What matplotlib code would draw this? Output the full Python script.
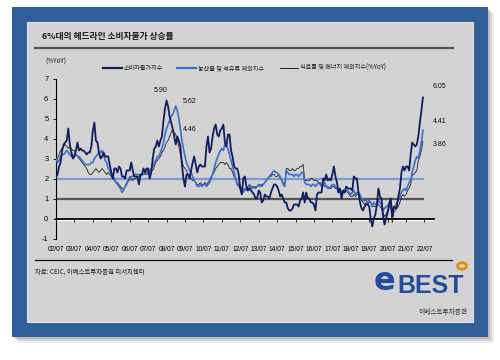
import matplotlib
matplotlib.use("Agg")
import matplotlib.pyplot as plt
from matplotlib.patches import Rectangle, Circle
from matplotlib.lines import Line2D

W, H = 500, 360
plt.rcParams['font.family'] = ['Noto Sans CJK KR', 'DejaVu Sans']
NARROW = ['Liberation Sans Narrow', 'Liberation Sans', 'DejaVu Sans']

TITLE = "6%대의 헤드라인 소비자물가 상승률"
SOURCE = "자료: CEIC, 이베스트투자증권 리서치센터"
UNIT = "(%YoY)"
SERIES_NAMES = ["소비자물가지수", "농산물 및 석유류 제외지수", "식료품 및 에너지 제외지수(%YoY)"]
TICK_LABELS = ["02/07", "03/07", "04/07", "05/07", "06/07", "07/07", "08/07", "09/07",
               "10/07", "11/07", "12/07", "13/07", "14/07", "15/07", "16/07", "17/07",
               "18/07", "19/07", "20/07", "21/07", "22/07"]

# monthly %YoY, 2002-07 .. 2022-06
cpi = [
    2.1, 2.2, 2.6, 2.8, 3.4, 3.7,
    3.8, 3.9, 4.5, 3.7, 3.3, 3.0, 3.1, 3.4, 3.8, 3.4, 3.5, 3.4,
    3.4, 3.3, 3.2, 3.3, 3.3, 3.6, 4.4, 4.8, 3.9, 3.8, 3.3, 3.0,
    3.1, 3.3, 3.1, 3.1, 3.1, 2.7, 2.3, 2.0, 2.5, 2.5, 2.3, 2.6,
    2.5, 2.1, 2.1, 2.0, 2.4, 2.4, 2.4, 2.8, 2.4, 2.1, 2.1, 2.1,
    1.7, 2.2, 2.2, 2.5, 2.3, 2.5, 2.5, 2.0, 2.3, 3.0, 3.5, 3.6,
    3.9, 3.6, 3.9, 4.1, 4.9, 5.5, 5.9, 5.6, 5.1, 4.8, 4.5, 4.1,
    3.7, 4.1, 3.9, 3.6, 2.7, 2.0, 1.6, 2.2, 2.2, 2.0, 2.4, 2.8,
    3.1, 2.7, 2.3, 2.6, 2.7, 2.6, 2.6, 2.6, 3.6, 4.1, 3.3, 3.5,
    4.1, 4.5, 4.7, 4.2, 4.1, 4.4, 4.5, 4.7, 3.8, 3.6, 4.2, 4.2,
    3.4, 3.1, 2.6, 2.5, 2.5, 2.2, 1.5, 1.2, 2.0, 2.1, 1.6, 1.4,
    1.5, 1.4, 1.3, 1.2, 1.0, 1.0, 1.4, 1.3, 0.8, 0.9, 1.2, 1.1,
    1.1, 1.0, 1.3, 1.5, 1.7, 1.7, 1.6, 1.4, 1.1, 1.2, 1.0, 0.8,
    0.8, 0.5, 0.4, 0.4, 0.5, 0.7, 0.7, 0.7, 0.6, 0.9, 1.0, 1.3,
    0.8, 1.3, 1.0, 1.0, 0.8, 0.8, 0.7, 0.4, 1.2, 1.3, 1.3, 1.3,
    2.0, 1.9, 2.2, 1.9, 2.0, 1.9, 2.2, 2.6, 2.1, 1.8, 1.3, 1.5,
    1.0, 1.4, 1.3, 1.6, 1.5, 1.5, 1.5, 1.4, 2.1, 2.0, 2.0, 1.3,
    0.8, 0.5, 0.4, 0.6, 0.7, 0.7, 0.6, 0.0, -0.4, 0.0, 0.2, 0.7,
    1.5, 1.1, 1.0, 0.1, -0.3, 0.0, 0.3, 0.7, 1.0, 0.1, 0.6, 0.5,
    0.6, 1.1, 1.5, 2.3, 2.6, 2.4, 2.6, 2.6, 2.4, 3.2, 3.8, 3.7,
    3.6, 3.7, 4.1, 4.8, 5.4, 6.05,
]
ex_agri_oil = [
    3.0, 2.8, 2.9, 3.1, 3.2, 3.2,
    3.3, 3.4, 3.3, 3.2, 3.1, 3.1, 3.2, 3.2, 3.1, 3.1, 3.0, 2.9,
    2.8, 2.7, 2.7, 2.7, 2.7, 2.8, 2.8, 3.0, 3.1, 3.2, 3.3, 3.3,
    3.4, 3.2, 2.9, 2.8, 2.5, 2.4, 2.2, 2.1, 2.0, 1.8, 1.7, 1.6,
    1.5, 1.3, 1.4, 1.6, 1.7, 1.9, 1.9, 2.1, 2.1, 2.2, 2.2, 2.2,
    2.2, 2.1, 2.2, 2.2, 2.3, 2.3, 2.4, 2.4, 2.5, 2.6, 2.8, 2.9,
    3.1, 3.1, 3.3, 3.5, 3.8, 4.2, 4.5, 4.7, 4.9, 5.1, 5.2, 5.4,
    5.62, 5.4, 5.0, 4.5, 3.9, 3.5, 3.1, 2.8, 2.6, 2.4, 2.3, 2.1,
    1.9, 1.8, 1.6, 1.6, 1.7, 1.6, 1.7, 1.7, 1.6, 1.7, 1.8, 2.0,
    2.2, 2.5, 2.8, 3.0, 3.2, 3.4, 3.5, 3.4, 3.7, 3.6, 3.5, 3.2,
    2.9, 2.6, 2.3, 2.0, 1.7, 1.6, 1.5, 1.4, 1.3, 1.5, 1.4, 1.5,
    1.7, 1.6, 1.5, 1.6, 1.5, 1.6, 1.7, 1.6, 1.7, 1.7, 1.8, 1.9,
    2.0, 2.1, 2.2, 2.3, 2.4, 2.3, 2.3, 2.2, 2.1, 1.9, 1.7, 1.6,
    2.4, 2.3, 2.2, 2.2, 2.2, 2.1, 2.2, 2.2, 2.1, 2.2, 2.3, 2.3,
    1.8, 1.7, 1.7, 1.7, 1.6, 1.7, 1.7, 1.6, 1.7, 1.8, 1.7, 1.6,
    1.7, 1.8, 1.6, 1.6, 1.5, 1.6, 1.7, 1.7, 1.6, 1.5, 1.3, 1.4,
    1.3, 1.4, 1.3, 1.4, 1.4, 1.3, 1.2, 1.3, 1.4, 1.2, 1.3, 1.3,
    1.2, 1.0, 0.9, 0.9, 0.9, 0.8, 0.9, 0.8, 0.6, 0.8, 0.7, 0.7,
    0.9, 0.8, 0.7, 0.4, 0.5, 0.6, 0.6, 0.8, 0.7, 0.3, 0.5, 0.6,
    0.8, 0.9, 1.1, 1.3, 1.4, 1.5, 1.4, 1.6, 1.8, 1.9, 2.3, 2.6,
    2.9, 3.1, 3.0, 3.4, 3.8, 4.41,
]
ex_food_energy = [
    2.8, 3.0, 3.2, 3.4, 3.5, 3.6,
    3.7, 3.6, 3.5, 3.6, 3.5, 3.4, 3.4, 3.2, 3.1, 3.0, 2.9, 2.8,
    2.7, 2.6, 2.5, 2.3, 2.2, 2.2, 2.3, 2.4, 2.5, 2.4, 2.3, 2.4,
    2.5, 2.4, 2.3, 2.2, 2.3, 2.2, 2.1, 2.0, 1.9, 1.8, 1.8, 1.7,
    1.6, 1.5, 1.5, 1.6, 1.8, 1.9, 2.1, 2.0, 1.9, 2.0, 2.0, 2.1,
    2.1, 2.2, 2.2, 2.2, 2.2, 2.2, 2.3, 2.3, 2.4, 2.4, 2.6, 2.8,
    2.9, 3.0, 3.1, 3.3, 3.4, 3.6, 3.8, 3.9, 4.1, 4.3, 4.46, 4.3,
    4.2, 3.9, 3.6, 3.2, 2.9, 2.6, 2.5, 2.4, 2.2, 2.1, 2.0, 1.9,
    1.9, 1.8, 1.7, 1.7, 1.8, 1.7, 1.7, 1.8, 1.7, 1.8, 1.9, 2.1,
    2.2, 2.3, 2.5, 2.6, 2.7, 2.8, 2.8, 2.8, 2.7, 2.8, 2.7, 2.5,
    2.5, 2.3, 2.1, 2.0, 1.8, 1.7, 1.6, 1.5, 1.4, 1.5, 1.5, 1.6,
    1.6, 1.5, 1.6, 1.6, 1.6, 1.6, 1.7, 1.7, 1.6, 1.7, 1.8, 1.9,
    2.0, 2.1, 2.1, 2.2, 2.2, 2.1, 2.1, 2.2, 2.0, 1.9, 1.8, 1.7,
    2.5, 2.5, 2.4, 2.4, 2.5, 2.4, 2.4, 2.5, 2.5, 2.6, 2.6, 2.7,
    1.9, 1.9, 1.9, 1.9, 2.0, 2.0, 1.9, 1.9, 1.9, 1.8, 1.8, 1.7,
    1.7, 1.6, 1.6, 1.5, 1.5, 1.5, 1.6, 1.6, 1.5, 1.5, 1.3, 1.4,
    1.2, 1.3, 1.3, 1.4, 1.3, 1.2, 1.1, 1.1, 1.2, 1.1, 1.2, 1.2,
    1.1, 0.9, 0.8, 0.7, 0.8, 0.7, 0.8, 0.8, 0.6, 0.6, 0.6, 0.7,
    0.7, 0.6, 0.5, 0.3, 0.1, 0.2, 0.4, 0.6, 0.6, -0.2, 0.3, 0.4,
    0.5, 0.6, 0.8, 1.1, 1.2, 1.1, 1.2, 1.4, 1.5, 1.7, 2.2, 2.2,
    2.3, 2.4, 2.9, 3.1, 3.4, 3.86,
]

NAVY = '#101e5e'
MID_BLUE = '#3b6fc8'
REF_BLUE = '#7b9ad6'
FRAME_BLUE = '#2f5e98'
PANEL = '#d3d3d3'


def fx(px):
    return px / W


def fy(py):
    return 1 - py / H


def fig_rect(fig, x0, y0, x1, y1, **kw):
    r = Rectangle((fx(x0), fy(y1)), (x1 - x0) / W, (y1 - y0) / H,
                  transform=fig.transFigure, **kw)
    fig.add_artist(r)
    return r


def fig_line(fig, x0, x1, y, **kw):
    fig.add_artist(Line2D([fx(x0), fx(x1)], [fy(y), fy(y)], transform=fig.transFigure, **kw))


fig = plt.figure(figsize=(W / 100, H / 100), dpi=100, facecolor='white')

# shadow, blue frame and gray panel
for off, a in [(6, 0.10), (4, 0.15), (2, 0.2)]:
    fig_rect(fig, 12 + off, 7 + off, 488 + off, 337 + off, color='#555555', alpha=a, lw=0, zorder=-20)
fig_rect(fig, 12, 7, 488, 337, color=FRAME_BLUE, lw=0, zorder=-15)
fig_rect(fig, 27, 22, 473, 322, facecolor=PANEL, edgecolor='#e4e4e4', lw=0.8, zorder=-10)

# title and rules
fig.text(fx(42), fy(37), TITLE, fontsize=6.3, fontweight='bold', color='#1a1a1a', va='center')
fig_line(fig, 35, 453, 48, color='#555555', lw=1.6)
fig_line(fig, 35, 452, 260, color='#111111', lw=0.9)
fig.text(fx(35), fy(272), SOURCE, fontsize=4.6, color='#1a1a1a', va='center')

# logo
fig.text(fx(374), fy(282), "e", fontsize=23, fontweight='bold', color='#264a9c',
         va='center', ha='left', family=['DejaVu Sans'])
fig.text(fx(397), fy(286), "BEST", fontsize=18, fontweight='bold', color='#264a9c',
         va='center', ha='left', family=NARROW)
fig.add_artist(Circle((fx(462), fy(266)), 4.5 / W, transform=fig.transFigure,
                      facecolor='#f3d3a0', edgecolor='#e08a1c', lw=2))
fig.text(fx(467), fy(312), "이베스트투자증권", fontsize=4.8, color='#333333', va='center', ha='right')

# plot area
ax = fig.add_axes([fx(56), fy(238.5), 378 / W, 160 / H])
ax.set_facecolor('none')

months = list(range(len(cpi)))
ax.hlines(2, 0, 240, color=REF_BLUE, lw=1.6, zorder=1)
ax.hlines(1, 0, 240, color='#555555', lw=1.6, zorder=1)
ax.axhline(-0.08, color='white', lw=0.9, zorder=1)

ax.plot(range(len(ex_food_energy)), ex_food_energy, color='#222222', lw=0.6, zorder=3)
ax.plot(range(len(ex_agri_oil)), ex_agri_oil, color=MID_BLUE, lw=1.2, zorder=4)
ax.plot(months, cpi, color=NAVY, lw=1.3, zorder=5)

ax.set_xlim(0, 246.2)
ax.set_ylim(-1, 7)
for s in ['top', 'right']:
    ax.spines[s].set_visible(False)
ax.spines['bottom'].set_position(('data', 0))
ax.spines['bottom'].set_linewidth(1.3)
ax.spines['left'].set_linewidth(0.8)

ax.set_xticks(range(0, 241, 12))
ax.set_xticklabels(TICK_LABELS, family=NARROW, fontsize=4.8)
ax.tick_params(axis='x', direction='out', length=2.5, width=0.6, pad=17.5)
ax.set_yticks(range(-1, 8))
ax.set_yticklabels([str(v) for v in range(-1, 8)], family=NARROW, fontsize=5.4)
ax.tick_params(axis='y', direction='out', length=2.5, width=0.6, pad=3)

# value labels
peaks = [
    ("5.90", cpi, 72, (-4, 7)),
    ("5.62", ex_agri_oil, 78, (5, 3)),
    ("4.46", ex_food_energy, 76, (7, 0)),
    ("6.05", cpi, 239, (7, 8)),
    ("4.41", ex_agri_oil, 239, (7, 6)),
    ("3.86", ex_food_energy, 239, (7, -2)),
]
for txt, series, i, off in peaks:
    ax.annotate(txt, (i, series[i]), xytext=off, textcoords='offset points',
                fontsize=5, family=NARROW, ha='left' if off[0] > 0 else 'center',
                va='center', color='#111111')

# unit and legend
fig.text(fx(45), fy(62), UNIT, fontsize=4.6, color='#1a1a1a', va='center')
legend = [(103, 122, NAVY, 1.6), (177, 196, MID_BLUE, 1.6), (280, 298, '#222222', 0.7)]
for (x0, x1, c, lw), name in zip(legend, SERIES_NAMES):
    fig_line(fig, x0, x1, 68, color=c, lw=lw)
    fig.text(fx(x1 + 1.5), fy(68), name, fontsize=4.4, color='#1a1a1a', va='center')

fig.savefig("out.png", dpi=100, facecolor='white')
